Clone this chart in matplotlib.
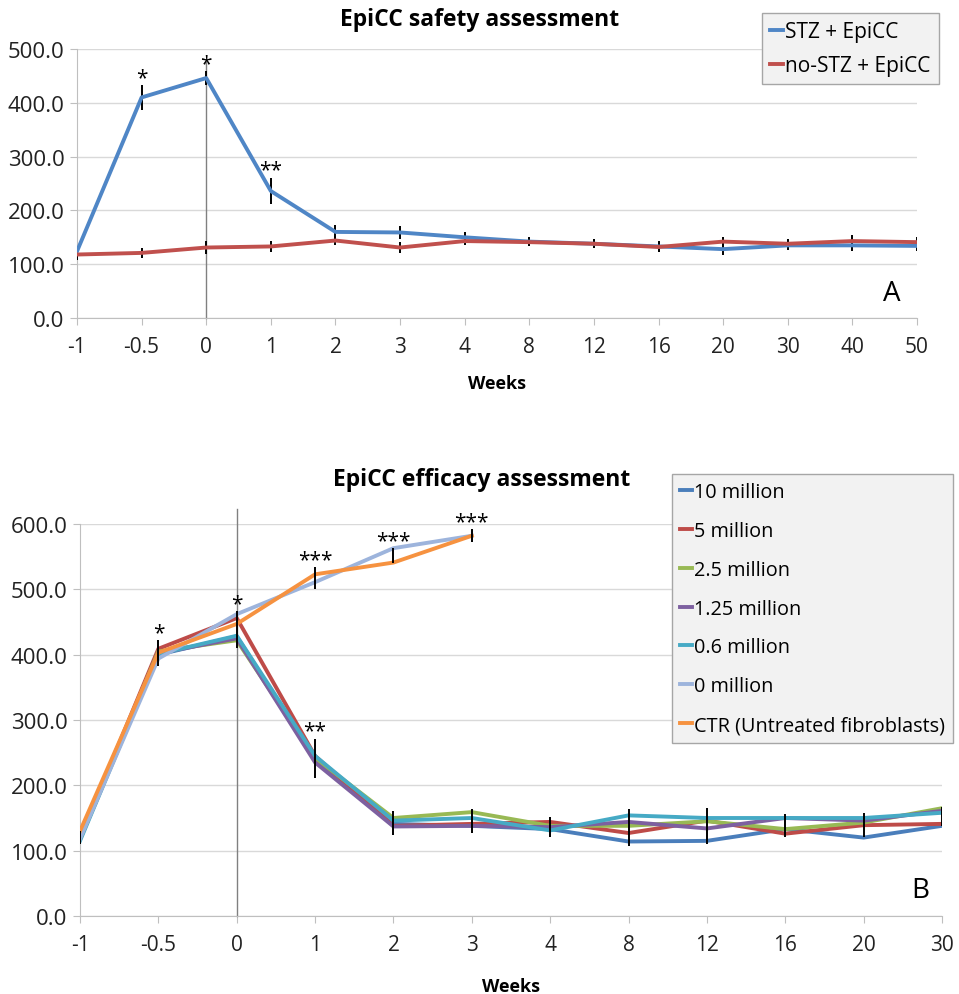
import numpy as np
import matplotlib
matplotlib.use("Agg")
import matplotlib.pyplot as plt

plt.rcParams["font.family"] = ["Open Sans", "DejaVu Sans"]

# ---- panel A data (safety) ----
weeks_a = ["-1", "-0.5", "0", "1", "2", "3", "4", "8", "12", "16", "20", "30", "40", "50"]
stz = [124, 410, 446, 236, 160, 159, 150, 142, 138, 133, 128, 135, 135, 134]
stz_err = [8, 23, 13, 25, 12, 12, 10, 8, 8, 10, 10, 8, 10, 10]
nostz = [118, 121, 131, 133, 144, 131, 143, 141, 138, 132, 142, 138, 143, 141]
nostz_err = [10, 10, 12, 10, 8, 10, 8, 8, 8, 10, 8, 8, 12, 10]
stars_a = {1: "*", 2: "*", 3: "**"}

# ---- panel B data (efficacy) ----
weeks_b = ["-1", "-0.5", "0", "1", "2", "3", "4", "8", "12", "16", "20", "30"]
m10 = [118, 400, 428, 240, 141, 138, 133, 114, 115, 133, 120, 138]
m5 = [120, 409, 456, 245, 138, 141, 144, 127, 146, 126, 139, 141]
m2_5 = [118, 405, 422, 242, 150, 159, 138, 138, 145, 133, 143, 165]
m1_25 = [118, 402, 425, 235, 137, 138, 136, 144, 134, 150, 146, 161]
m0_6 = [115, 401, 429, 245, 146, 150, 131, 154, 150, 150, 150, 158]
m0 = [118, 394, 462, 511, 563, 582]
ctr = [130, 403, 447, 523, 541, 582]
err_low = [10, 20, 28, 30, 18, 18, 15, 28, 28, 18, 18, 15]
err_high = [17, 11, 10]
stars_low = {1: "*", 2: "*", 3: "**"}
stars_high = {3: "***", 4: "***", 5: "***"}

series_b = [
    ("10 million", m10, "#4a7ebb"),
    ("5 million", m5, "#be4b48"),
    ("2.5 million", m2_5, "#98b954"),
    ("1.25 million", m1_25, "#7d60a0"),
    ("0.6 million", m0_6, "#46aac5"),
    ("0 million", m0, "#9db4dc"),
    ("CTR (Untreated fibroblasts)", ctr, "#f69240"),
]

GRID = "#d9d9d9"
AXC = "#bfbfbf"


def style_axes(ax, labels, ymax, vtop, labelpad):
    ax.set_xlim(0, len(labels) - 1)
    ax.set_ylim(0, ymax)
    ax.set_xticks(range(len(labels)))
    ax.set_xticklabels(labels, fontsize=15)
    ax.set_yticks(np.arange(0, ymax + 1, 100))
    ax.set_yticklabels([f"{v:.1f}" for v in np.arange(0, ymax + 1, 100)], fontsize=16)
    ax.yaxis.grid(True, color=GRID, lw=1)
    ax.set_axisbelow(True)
    for s in ["top", "right"]:
        ax.spines[s].set_visible(False)
    for s in ["left", "bottom"]:
        ax.spines[s].set_color(AXC)
    ax.spines["left"].set_bounds(0, ymax)
    ax.tick_params(axis="both", color=AXC, length=5, pad=4, labelcolor="#222222")
    ax.tick_params(axis="x", pad=8)
    # marker line at week 0
    ax.plot([2, 2], [0, vtop], color="#808080", lw=1, clip_on=False, zorder=1)
    ax.set_xlabel("Weeks", fontsize=13, fontweight="bold", labelpad=labelpad)


def gray_legend(ax, handles, labels, anchor, spacing, size):
    leg = ax.legend(handles, labels, loc="upper left", bbox_to_anchor=anchor,
                    bbox_transform=fig.transFigure, fontsize=size, handlelength=0.6,
                    handletextpad=0.1, borderpad=0.4, labelspacing=spacing,
                    fancybox=False, framealpha=1, borderaxespad=0)
    leg.get_frame().set_facecolor("#f2f2f2")
    leg.get_frame().set_edgecolor("#a6a6a6")
    return leg


fig = plt.figure(figsize=(9.59, 9.95), dpi=100)

# ---------------- panel A ----------------
ax1 = fig.add_axes([77 / 959, 1 - 319 / 995, 840 / 959, 269 / 995])
xa = np.arange(len(weeks_a))
style_axes(ax1, weeks_a, 500, 480, 12)
e1 = ax1.errorbar(xa, stz, yerr=stz_err, color="#4f86c6", lw=2.8, ecolor="black",
                  elinewidth=1.4, capsize=0, zorder=3)
e2 = ax1.errorbar(xa, nostz, yerr=nostz_err, color="#c0504d", lw=2.8, ecolor="black",
                  elinewidth=1.4, capsize=0, zorder=3)
for i, s in stars_a.items():
    ax1.annotate(s, (xa[i], stz[i] + stz_err[i]), xytext=(0, -2), textcoords="offset points",
                 ha="center", va="bottom", fontsize=15)
ax1.text(0.98, 0.04, "A", transform=ax1.transAxes, fontsize=20, ha="right", va="bottom")
fig.text(480 / 959, 1 - 20 / 995, "EpiCC safety assessment", fontsize=16.5,
         fontweight="bold", ha="center", va="center")
gray_legend(ax1, [e1.lines[0], e2.lines[0]], ["STZ + EpiCC", "no-STZ + EpiCC"],
            (762 / 959, 1 - 14 / 995), 0.6, 15)

# ---------------- panel B ----------------
ax2 = fig.add_axes([80 / 959, 1 - 917 / 995, 862 / 959, 392 / 995])
xb = np.arange(len(weeks_b))
style_axes(ax2, weeks_b, 600, 623, 16)
lines_b = []
for name, vals, col in series_b:
    ln, = ax2.plot(xb[:len(vals)], vals, color=col, lw=2.8, zorder=3)
    lines_b.append(ln)

low_group = np.array([m10, m5, m2_5, m1_25, m0_6], dtype=float)
all_early = np.vstack([low_group[:, :3], np.array([m0[:3], ctr[:3]], dtype=float)])
low_mean = low_group.mean(axis=0)
low_mean[:3] = all_early.mean(axis=0)
high_mean = np.array([m0, ctr], dtype=float).mean(axis=0)[3:]
ax2.errorbar(xb, low_mean, yerr=err_low, fmt="none", ecolor="black", elinewidth=1.4,
             capsize=0, zorder=4)
ax2.errorbar(xb[3:6], high_mean, yerr=err_high, fmt="none", ecolor="black",
             elinewidth=1.4, capsize=0, zorder=4)
for i, s in stars_low.items():
    ax2.annotate(s, (xb[i], low_mean[i] + err_low[i]), xytext=(0, -2),
                 textcoords="offset points", ha="center", va="bottom", fontsize=15)
for i, s in stars_high.items():
    ax2.annotate(s, (xb[i], high_mean[i - 3] + err_high[i - 3]), xytext=(0, -2),
                 textcoords="offset points", ha="center", va="bottom", fontsize=15)
ax2.text(0.985, 0.03, "B", transform=ax2.transAxes, fontsize=20, ha="right", va="bottom")
fig.text(482 / 959, 1 - 480 / 995, "EpiCC efficacy assessment", fontsize=16.5,
         fontweight="bold", ha="center", va="center")
gray_legend(ax2, lines_b, [s[0] for s in series_b], (672 / 959, 1 - 475 / 995), 0.95, 14.3)

fig.savefig("out.png", dpi=100, facecolor="white")
